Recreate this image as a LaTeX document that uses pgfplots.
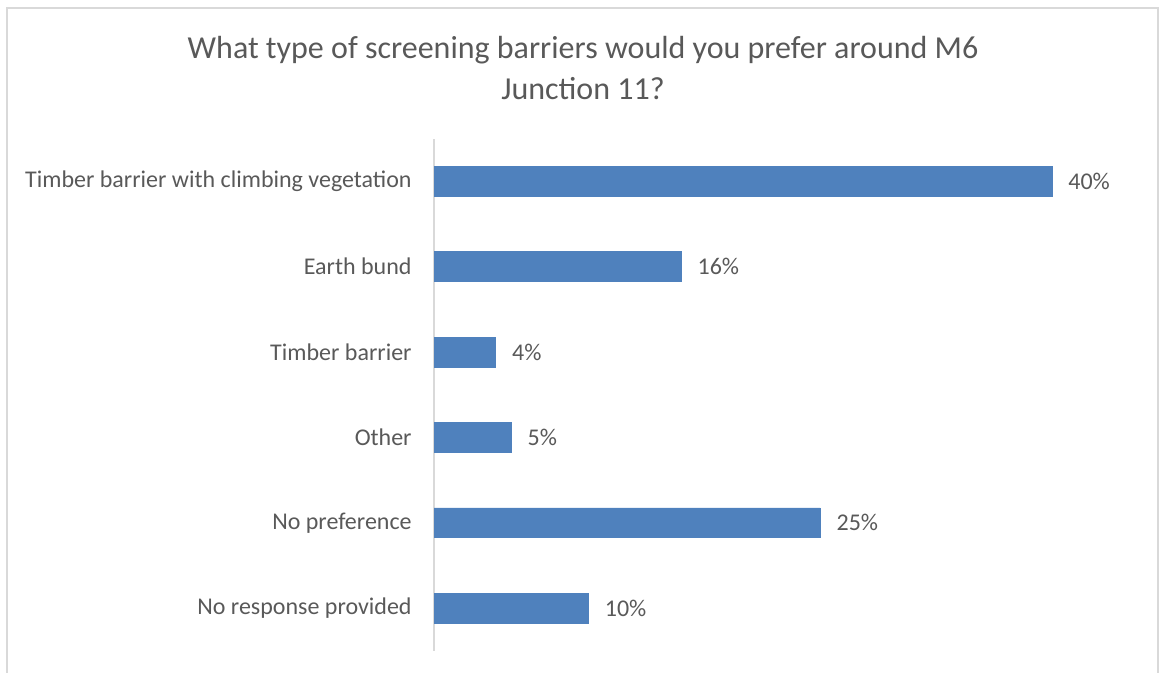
\documentclass[border=0pt]{standalone}
\usepackage{fontspec}
\setmainfont{Carlito}
\usepackage{pgfplots}
\pgfplotsset{compat=1.18}
\definecolor{barblue}{HTML}{4F81BD}
\definecolor{txtgray}{HTML}{595959}
\definecolor{framegray}{HTML}{D9D9D9}
\begin{document}
\begin{tikzpicture}
\useasboundingbox (0pt,0pt) rectangle (580pt,336.5pt);
\draw[framegray, line width=1pt] (3.5pt,0pt) -- (3.5pt,332.3pt) -- (579.2pt,332.3pt) -- (579.2pt,0pt);
\node[txtgray, align=center, font=\fontsize{16}{20.5}\selectfont] at (291.5pt,302.5pt)
  {What type of screening barriers would you prefer around M6\\Junction 11?};
\begin{axis}[
  at={(217pt,11pt)}, anchor=south west,
  scale only axis,
  width=347.6pt, height=256.2pt,
  xmin=0, xmax=45,
  ymin=-0.5, ymax=5.5,
  xbar, bar width=0.35,
  axis x line=none,
  axis y line*=left,
  y axis line style={framegray, line width=0.8pt},
  ytick={0,1,2,3,4,5},
  yticklabels={No response provided, No preference, Other, Timber barrier, Earth bund, Timber barrier with climbing vegetation},
  major tick length=0pt,
  yticklabel style={txtgray, font=\fontsize{12}{14}\selectfont, inner sep=0pt, xshift=-11pt},
  /pgf/number format/assume math mode=true,
  nodes near coords={\pgfmathprintnumber{\pgfplotspointmeta}\%},
  every node near coord/.append style={txtgray, font=\fontsize{12}{14}\selectfont, anchor=west, inner sep=0pt, xshift=8pt},
  point meta=x,
  clip=false,
]
\addplot[fill=barblue, draw=barblue] coordinates {(10,0) (25,1) (5,2) (4,3) (16,4) (40,5)};
\end{axis}
\end{tikzpicture}
\end{document}
